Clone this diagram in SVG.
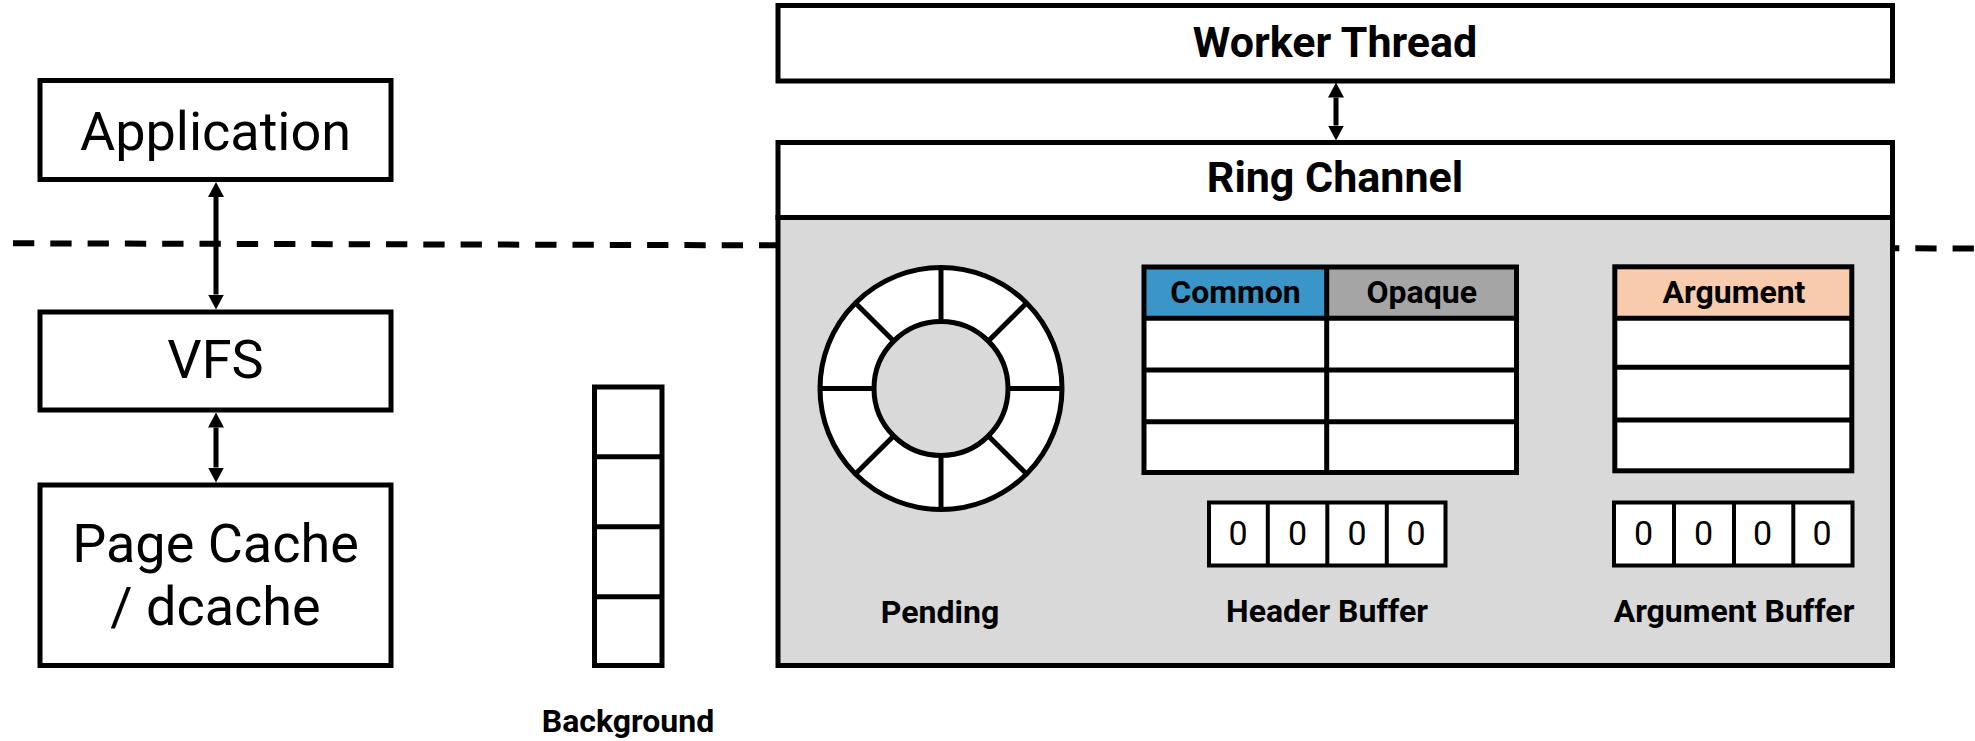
<svg xmlns="http://www.w3.org/2000/svg" width="1975" height="741" viewBox="0 0 1975 741">
<style>
.box{fill:#fff;stroke:#000;stroke-width:5}
.gray{fill:#d9d9d9;stroke:#000;stroke-width:5}
.ln{stroke:#000;stroke-width:5;fill:none}
.thin{stroke:#000;stroke-width:4;fill:none}
.big{font-family:Roboto,"Liberation Sans",sans-serif;font-size:54px;text-anchor:middle;fill:#000}
.hd{font-family:Roboto,"Liberation Sans",sans-serif;font-size:43px;font-weight:bold;text-anchor:middle;fill:#000}
.lbl{font-family:Roboto,"Liberation Sans",sans-serif;font-size:32px;font-weight:bold;text-anchor:middle;fill:#000}
.dig{font-family:Roboto,"Liberation Sans",sans-serif;font-size:34px;text-anchor:middle;fill:#000}
.conn{stroke:#000;stroke-width:5;fill:none;marker-start:url(#ah);marker-end:url(#ah)}
</style>
<defs>
<marker id="ah" markerUnits="userSpaceOnUse" markerWidth="16" markerHeight="17" refX="0" refY="8" orient="auto-start-reverse" viewBox="0 0 16 16">
<path d="M0,0 L15,8 L0,16 z" fill="#000"/>
</marker>
</defs>

<g id="boundary">
<line x1="13" y1="243.3" x2="1975" y2="248.5" stroke="#000" stroke-width="6" stroke-dasharray="21.3 16"/>
</g>

<g id="application">
<rect class="box" x="40" y="80.5" width="351" height="99"/>
<text class="big" x="215.5" y="150">Application</text>
</g>
<g id="vfs">
<rect class="box" x="40" y="312" width="351" height="98"/>
<text class="big" x="215.5" y="378">VFS</text>
</g>
<g id="pagecache">
<rect class="box" x="40" y="485" width="351" height="180.5"/>
<text class="big" x="215.5" y="561.5">Page Cache</text>
<text class="big" x="215.5" y="625">/ dcache</text>
</g>

<g id="background">
<rect class="box" x="594.5" y="387" width="67.5" height="278.5"/>
<line class="ln" x1="594.5" y1="456.7" x2="662" y2="456.7"/>
<line class="ln" x1="594.5" y1="526.7" x2="662" y2="526.7"/>
<line class="ln" x1="594.5" y1="596.7" x2="662" y2="596.7"/>
<text class="lbl" x="628" y="732">Background</text>
</g>

<g id="worker-thread">
<rect class="box" x="778" y="5.5" width="1114.5" height="75.5"/>
<text class="hd" x="1335" y="57">Worker Thread</text>
</g>

<g id="ring-channel">
<rect class="gray" x="778" y="217.5" width="1114.5" height="448"/>
<rect class="box" x="778" y="142.5" width="1114.5" height="75"/>
<text class="hd" x="1335" y="192">Ring Channel</text>
</g>

<g id="pending">
<circle cx="941" cy="388.5" r="121" fill="#fff" stroke="#000" stroke-width="5"/>
<circle cx="941" cy="388.5" r="67" fill="#d9d9d9" stroke="#000" stroke-width="5"/>
<g class="ln">
<line x1="941" y1="267.5" x2="941" y2="321.5"/>
<line x1="941" y1="455.5" x2="941" y2="509.5"/>
<line x1="820" y1="388.5" x2="874" y2="388.5"/>
<line x1="1008" y1="388.5" x2="1062" y2="388.5"/>
<line x1="855.4" y1="302.9" x2="893.6" y2="341.1"/>
<line x1="988.4" y1="435.9" x2="1026.6" y2="474.1"/>
<line x1="1026.6" y1="302.9" x2="988.4" y2="341.1"/>
<line x1="893.6" y1="435.9" x2="855.4" y2="474.1"/>
</g>
<text class="lbl" x="940" y="623">Pending</text>
</g>

<g id="header-buffer">
<rect x="1144" y="267" width="182.7" height="51.3" fill="#3a96c8"/>
<rect x="1326.7" y="267" width="189.8" height="51.3" fill="#a5a5a5"/>
<rect x="1144" y="318.3" width="372.5" height="154.2" fill="#fff"/>
<rect class="ln" x="1144" y="267" width="372.5" height="205.5"/>
<line class="ln" x1="1144" y1="318.3" x2="1516.5" y2="318.3"/>
<line class="ln" x1="1144" y1="370" x2="1516.5" y2="370"/>
<line class="ln" x1="1144" y1="421.7" x2="1516.5" y2="421.7"/>
<line class="ln" x1="1326.7" y1="267" x2="1326.7" y2="472.5"/>
<text class="lbl" x="1235.5" y="303">Common</text>
<text class="lbl" x="1421.7" y="303">Opaque</text>
<rect x="1209" y="502.5" width="236.5" height="63" fill="#fff" stroke="#000" stroke-width="4"/>
<line class="thin" x1="1267.8" y1="502.5" x2="1267.8" y2="565.5"/>
<line class="thin" x1="1327.3" y1="502.5" x2="1327.3" y2="565.5"/>
<line class="thin" x1="1386.8" y1="502.5" x2="1386.8" y2="565.5"/>
<text class="dig" x="1238" y="545">0</text>
<text class="dig" x="1297.5" y="545">0</text>
<text class="dig" x="1357" y="545">0</text>
<text class="dig" x="1416" y="545">0</text>
<text class="lbl" x="1327" y="622">Header Buffer</text>
</g>

<g id="argument-buffer">
<rect x="1614.8" y="266.8" width="237" height="51.5" fill="#f8cbad"/>
<rect x="1614.8" y="318.3" width="237" height="152.5" fill="#fff"/>
<rect class="ln" x="1614.8" y="266.8" width="237" height="204"/>
<line class="ln" x1="1614.8" y1="318.3" x2="1851.8" y2="318.3"/>
<line class="ln" x1="1614.8" y1="367.3" x2="1851.8" y2="367.3"/>
<line class="ln" x1="1614.8" y1="420" x2="1851.8" y2="420"/>
<text class="lbl" x="1734" y="303">Argument</text>
<rect x="1614" y="502.5" width="238.5" height="63" fill="#fff" stroke="#000" stroke-width="4"/>
<line class="thin" x1="1674" y1="502.5" x2="1674" y2="565.5"/>
<line class="thin" x1="1734" y1="502.5" x2="1734" y2="565.5"/>
<line class="thin" x1="1793.3" y1="502.5" x2="1793.3" y2="565.5"/>
<text class="dig" x="1643.5" y="545">0</text>
<text class="dig" x="1703.5" y="545">0</text>
<text class="dig" x="1762.5" y="545">0</text>
<text class="dig" x="1822" y="545">0</text>
<text class="lbl" x="1734" y="622">Argument Buffer</text>
</g>

<g id="connectors">
<line class="conn" x1="216" y1="197" x2="216" y2="294.5"/>
<line class="conn" x1="216" y1="427.5" x2="216" y2="467.5"/>
<line class="conn" x1="1336" y1="97.5" x2="1336" y2="125.5"/>
</g>
</svg>
